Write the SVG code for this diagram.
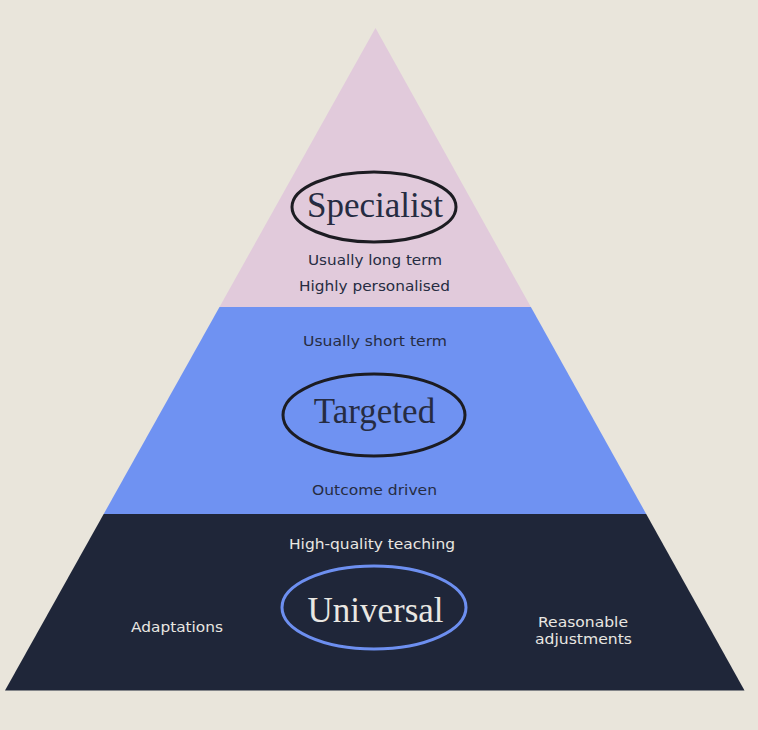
<svg xmlns="http://www.w3.org/2000/svg" width="758" height="730" viewBox="0 0 758 730">
  <style>
    .serif { font-family: "Liberation Serif", "DejaVu Serif", serif; font-size: 35px; text-anchor: middle; }
    .sans { font-family: "DejaVu Sans", "Liberation Sans", sans-serif; font-size: 14.5px; text-anchor: middle; }
    .dark { fill: #262c42; }
    .light { fill: #e9e7e2; }
    .ring-dark { fill: none; stroke: #1c1c22; stroke-width: 3; }
    .ring-blue { fill: none; stroke: #6d8ff0; stroke-width: 3; }
  </style>
  <rect x="0" y="0" width="758" height="730" fill="#e9e5db"/>

  <g id="specialist">
    <polygon points="375.5,28 530.9,307 219.5,307" fill="#e1cadb"/>
    <ellipse class="ring-dark" cx="374" cy="207" rx="82" ry="35"/>
    <text class="serif dark" x="375" y="217">Specialist</text>
    <text class="sans dark" x="375" y="265" textLength="134" lengthAdjust="spacingAndGlyphs">Usually long term</text>
    <text class="sans dark" x="374.5" y="291" textLength="151" lengthAdjust="spacingAndGlyphs">Highly personalised</text>
  </g>

  <g id="targeted">
    <polygon points="219.5,307 530.9,307 646.2,514 103.7,514" fill="#6f92f2"/>
    <text class="sans dark" x="375" y="346" textLength="144" lengthAdjust="spacingAndGlyphs">Usually short term</text>
    <ellipse class="ring-dark" cx="374" cy="415" rx="91" ry="41"/>
    <text class="serif dark" x="374.5" y="423">Targeted</text>
    <text class="sans dark" x="374.5" y="495" textLength="125" lengthAdjust="spacingAndGlyphs">Outcome driven</text>
  </g>

  <g id="universal">
    <polygon points="103.7,514 646.2,514 744.5,690.5 5,690.5" fill="#1f2639"/>
    <text class="sans light" x="372" y="549" textLength="166" lengthAdjust="spacingAndGlyphs">High-quality teaching</text>
    <ellipse class="ring-blue" cx="374" cy="607.5" rx="92" ry="41.5"/>
    <text class="serif light" x="375.5" y="622">Universal</text>
    <text class="sans light" x="177" y="632" textLength="92" lengthAdjust="spacingAndGlyphs">Adaptations</text>
    <text class="sans light" x="583" y="627" textLength="90" lengthAdjust="spacingAndGlyphs">Reasonable</text>
    <text class="sans light" x="583.5" y="644" textLength="97" lengthAdjust="spacingAndGlyphs">adjustments</text>
  </g>

  <g id="connectors"></g>
</svg>
